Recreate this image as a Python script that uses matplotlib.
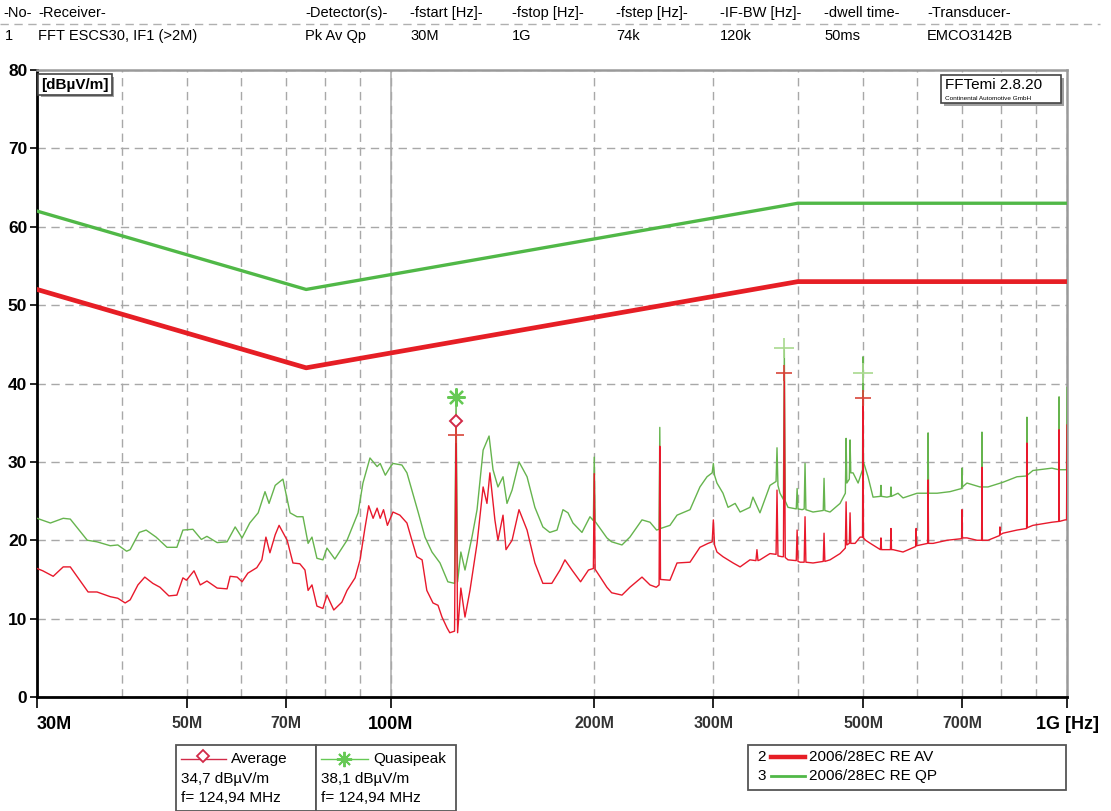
"""
Radiated emission scan 30 MHz - 1 GHz (FFTemi style chart)
"""

import matplotlib
matplotlib.use('Agg')
import matplotlib.pyplot as plt
from matplotlib.lines import Line2D
from matplotlib.patches import Rectangle
from matplotlib.ticker import FixedLocator, NullFormatter
import matplotlib.patheffects as pe

plt.rcParams['font.family'] = ['Liberation Sans', 'DejaVu Sans']

# ---- header table ----
header_cols = ['-No-', '-Receiver-', '-Detector(s)-', '-fstart [Hz]-', '-fstop [Hz]-',
               '-fstep [Hz]-', '-IF-BW [Hz]-', '-dwell time-', '-Transducer-']
header_vals = ['1', 'FFT ESCS30, IF1 (>2M)', 'Pk Av Qp', '30M', '1G',
               '74k', '120k', '50ms', 'EMCO3142B']

# ---- limit lines (2006/28EC) ----
limit_freq = [30, 75, 400, 1000]
limit_av = [52, 42, 53, 53]
limit_qp = [62, 52, 63, 63]

# ---- average trace (MHz, dBuV/m) ----
av_freq = [30.0, 30.6, 31.7, 32.8, 33.6, 35.7, 36.8, 38.5, 39.5, 40.5, 41.2, 42.3, 43.3, 44.5,
           45.6, 47.0, 48.3, 49.3, 49.9, 51.2, 52.3, 53.5, 55.4, 57.3, 57.9, 59.3, 60.3, 61.5,
           63.4, 64.5, 65.4, 66.3, 67.5, 68.4, 70.3, 71.7, 73.4, 74.7, 75.5, 76.5, 77.8, 79.4,
           80.5, 82.4, 84.7, 86.2, 88.6, 90.1, 91.6, 92.8, 94.2, 95.5, 96.5, 97.6, 98.9, 100.8,
           103.2, 105.7, 107.5, 109.3, 111.3, 113.1, 115.5, 117.5, 119.1, 121.2, 122.3, 124.3,
           124.94, 125.6, 127.0, 128.8, 131.0, 134.2, 137.0, 138.8, 140.2, 142.6, 144.1, 146.6,
           148.1, 151.2, 154.8, 159.1, 163.4, 167.9, 173.1, 178.0, 181.0, 185.4, 190.9, 196.1,
           199.4, 200.0, 200.6, 208.8, 212.2, 219.8, 225.8, 235.3, 241.8, 247.0, 249.4, 250.0,
           250.6, 258.8, 265.1, 277.1, 286.6, 294.6, 298.8, 300.0, 301.2, 303.7, 310.0, 320.9,
           328.6, 339.8, 346.8, 348.0, 349.2, 351.6, 363.8, 371.4, 372.6, 373.8, 379.0, 380.8,
           382.0, 383.2, 386.8, 397.8, 399.0, 400.2, 403.1, 408.7, 409.9, 411.1, 421.2, 436.1,
           437.3, 438.5, 446.3, 461.8, 470.2, 471.4, 472.6, 476.6, 477.8, 479.0, 486.0, 494.4,
           498.5, 499.3, 500.1, 503.8, 512.0, 529.8, 530.8, 531.8, 548.2, 549.2, 550.2, 553.0,
           572.2, 597.3, 598.3, 599.3, 606.6, 622.2, 623.2, 624.2, 633.9, 664.9, 698.4, 699.4,
           700.4, 711.4, 736.0, 747.7, 748.7, 749.7, 764.2, 794.9, 795.9, 796.9, 804.1, 843.4,
           871.5, 872.5, 873.5, 890.4, 950.1, 972.3, 973.3, 974.3, 993.6, 998.5, 1000.0]
av_level = [16.4, 16.1, 15.4, 16.6, 16.6, 13.4, 13.4, 12.8, 12.6, 12.0, 12.4, 14.3, 15.3, 14.5,
            14.0, 12.9, 13.0, 15.2, 14.9, 16.1, 14.3, 14.8, 13.9, 13.8, 15.4, 15.3, 14.7, 15.8,
            16.5, 17.5, 20.4, 18.4, 20.7, 21.9, 20.0, 17.1, 17.0, 16.2, 13.6, 14.3, 11.6, 11.3,
            13.0, 11.1, 12.1, 13.6, 15.2, 17.5, 21.5, 24.4, 22.8, 24.1, 22.8, 23.9, 21.9, 23.6,
            23.2, 22.2, 20.0, 17.9, 17.5, 13.6, 12.0, 11.7, 10.2, 8.8, 8.2, 8.4,
            35.2, 8.2, 13.9, 10.2, 13.6, 19.6, 26.8, 24.7, 28.6, 22.6, 20.0, 23.2,
            18.8, 20.0, 23.9, 21.3, 17.1, 14.5, 14.5, 16.2, 17.5, 16.2, 14.7, 16.2,
            16.4, 28.5, 16.3, 14.0, 13.3, 13.0, 14.0, 15.3, 14.3, 14.0, 14.3, 32.0,
            15.0, 14.9, 17.1, 17.2, 19.1, 19.6, 19.8, 22.6, 19.4, 18.5, 17.9, 17.1,
            16.6, 17.5, 17.4, 18.8, 17.4, 17.5, 18.3, 18.2, 26.4, 18.0, 17.9, 17.9,
            41.3, 17.8, 17.5, 17.4, 21.3, 17.3, 17.2, 17.2, 23.0, 17.2, 17.1, 17.3,
            20.9, 17.3, 17.5, 18.3, 19.0, 24.9, 19.4, 19.6, 23.5, 19.6, 19.6, 20.4,
            20.4, 38.3, 20.3, 20.0, 19.6, 18.8, 20.3, 18.8, 18.8, 21.5, 18.8, 18.8,
            18.5, 19.2, 21.5, 19.3, 19.4, 19.6, 27.7, 19.6, 19.6, 20.0, 20.2, 23.9,
            20.3, 20.3, 20.0, 20.0, 29.3, 20.0, 20.0, 20.6, 21.7, 20.7, 20.9, 21.3,
            21.5, 32.4, 21.6, 21.9, 22.3, 22.4, 34.1, 22.4, 22.6, 22.6, 34.7]

# ---- quasipeak trace (MHz, dBuV/m) ----
qp_freq = [30.0, 31.4, 32.8, 33.6, 35.6, 36.8, 38.5, 39.5, 40.7, 41.2, 42.5, 43.5, 45.0, 46.7,
           48.3, 49.3, 51.0, 52.5, 53.5, 55.4, 57.3, 58.9, 60.3, 61.9, 63.7, 65.2, 66.1, 67.5,
           69.3, 71.0, 72.7, 74.2, 75.5, 76.5, 77.8, 79.4, 80.5, 82.7, 86.2, 89.5, 91.0, 93.2,
           95.5, 96.5, 98.2, 99.8, 100.8, 103.9, 105.7, 107.5, 109.8, 112.4, 115.1, 118.3,
           121.5, 124.3, 124.94, 125.6, 127.0, 128.8, 131.9, 134.2, 137.0, 139.8, 141.7, 144.1,
           146.6, 148.6, 151.2, 154.8, 159.1, 163.4, 167.9, 171.9, 176.2, 179.8, 182.9, 186.0,
           191.8, 197.1, 199.4, 200.0, 200.6, 208.8, 212.2, 219.8, 225.8, 235.3, 241.8, 247.3,
           249.4, 250.0, 250.6, 258.8, 265.1, 277.1, 286.6, 293.6, 298.8, 300.0, 301.2, 303.7,
           310.0, 315.4, 323.1, 328.6, 339.8, 343.3, 351.6, 363.8, 371.4, 372.6, 373.8, 376.4,
           380.8, 382.0, 383.2, 386.8, 397.8, 399.0, 400.2, 405.9, 408.7, 409.9, 411.1, 421.2,
           436.1, 437.3, 438.5, 446.3, 461.8, 470.2, 471.4, 472.6, 476.6, 477.8, 479.0, 482.7,
           491.1, 498.5, 499.3, 500.1, 507.9, 516.7, 529.8, 530.8, 531.8, 541.7, 548.2, 549.2,
           550.2, 562.5, 572.2, 600.4, 622.2, 623.2, 624.2, 642.6, 671.4, 698.4, 699.4, 700.4,
           711.4, 743.6, 747.7, 748.7, 749.7, 764.2, 804.1, 843.4, 871.5, 872.5, 873.5, 890.4,
           950.1, 972.3, 973.3, 974.3, 993.6, 998.5, 1000.0]
qp_level = [22.8, 22.2, 22.8, 22.7, 20.0, 19.8, 19.3, 19.4, 18.6, 18.8, 21.0, 21.3, 20.4, 19.1,
            19.1, 21.3, 21.4, 20.1, 20.5, 19.7, 19.8, 21.7, 20.3, 22.2, 23.5, 26.2, 24.7, 27.0,
            27.8, 23.5, 23.0, 23.0, 19.6, 20.4, 17.7, 17.5, 19.0, 17.6, 20.0, 23.5, 27.3, 30.5,
            29.4, 29.8, 28.3, 29.3, 29.8, 29.6, 28.6, 26.4, 23.6, 20.4, 18.5, 17.1,
            14.7, 14.5, 38.1, 14.7, 18.5, 16.2, 20.4, 23.9, 31.5, 33.3, 29.0, 26.8,
            28.1, 24.7, 26.4, 30.0, 28.1, 24.2, 21.7, 21.0, 21.3, 23.9, 23.5, 22.2,
            21.0, 23.0, 22.5, 30.6, 22.4, 20.3, 19.8, 19.4, 20.4, 22.6, 22.3, 21.3,
            21.4, 34.4, 21.5, 21.9, 23.2, 23.9, 26.8, 28.1, 28.6, 29.8, 28.3, 27.3,
            26.0, 24.2, 24.7, 23.6, 24.2, 25.5, 23.5, 27.0, 27.5, 31.8, 27.0, 26.0,
            25.2, 44.3, 25.0, 24.2, 24.0, 26.6, 24.0, 23.9, 24.0, 29.8, 23.9, 23.6,
            23.8, 27.9, 23.8, 23.6, 24.7, 26.0, 33.0, 27.3, 27.8, 32.8, 28.6, 28.6,
            27.3, 29.0, 43.4, 30.0, 28.1, 25.5, 25.6, 27.0, 25.6, 25.5, 25.6, 26.8,
            25.6, 26.0, 25.4, 26.0, 26.0, 33.7, 26.0, 26.0, 26.2, 26.6, 29.2, 26.8,
            27.3, 26.8, 26.8, 33.8, 26.8, 26.8, 27.4, 28.1, 28.2, 35.7, 28.3, 28.9,
            29.2, 29.0, 38.3, 29.0, 29.0, 29.0, 39.5]

# ---- markers ----
mark_freq = 124.94
mark_av = 35.2
mark_qp = 38.3
av_peak_freq = [124.94, 382.0, 499.3]
av_peak_level = [33.4, 41.3, 38.1]
qp_peak_freq = [382.0, 499.3]
qp_peak_level = [44.5, 41.3]

x_major = [30, 50, 70, 100, 200, 300, 500, 700, 1000]
x_labels = ['30M', '50M', '70M', '100M', '200M', '300M', '500M', '700M', '1G [Hz]']
x_minor = [40, 60, 80, 90, 400, 600, 800, 900]

W, H = 1111, 811
RED_LIM = '#e61e25'
GREEN_LIM = '#50b847'
RED_TR = '#e8192c'
GREEN_TR = '#66b44e'
GRID = '#a8a8a8'


def fx(x):
    return x / W


def fy(y):
    return 1 - y / H


fig = plt.figure(figsize=(W / 100, H / 100), dpi=100)
ax = fig.add_axes([fx(37), fy(697), 1030 / W, 627 / H])

# traces
ax.plot(qp_freq, qp_level, color=GREEN_TR, lw=1.0, zorder=3)
ax.plot(av_freq, av_level, color=RED_TR, lw=1.0, zorder=4)

# limits
ax.plot(limit_freq, limit_qp, color=GREEN_LIM, lw=2.4, zorder=5)
ax.plot(limit_freq, limit_av, color=RED_LIM, lw=3.4, zorder=5)

# peak markers
ax.plot(qp_peak_freq, qp_peak_level, ls='none', marker='+', ms=14, mew=1.2,
        color='#a9d98f', zorder=6)
ax.plot(av_peak_freq, av_peak_level, ls='none', marker='+', ms=12, mew=1.2,
        color='#d8453a', zorder=6)
ax.plot([mark_freq], [mark_av], ls='none', marker='D', ms=6.5, mfc='white', mew=1.4,
        color='#d22a48', zorder=7)
ax.plot([mark_freq], [mark_qp], ls='none', marker=(8, 2, 0), ms=13, mew=1.6,
        color='#66c955', zorder=7)

ax.set_xscale('log')
ax.set_xlim(30, 1000)
ax.set_ylim(0, 80)

ax.xaxis.set_major_locator(FixedLocator(x_major))
ax.xaxis.set_minor_locator(FixedLocator(x_minor))
ax.xaxis.set_minor_formatter(NullFormatter())
ax.set_xticklabels(x_labels)
ax.set_yticks(range(0, 81, 10))

ax.tick_params(axis='x', which='major', length=8, width=1.2, pad=6, direction='out',
               labelsize=11.5)
ax.tick_params(axis='x', which='minor', length=0)
ax.tick_params(axis='y', length=5, width=1.2, pad=2, labelsize=12.5)
for lab in ax.get_yticklabels():
    lab.set_fontweight('bold')
for i, lab in enumerate(ax.get_xticklabels()):
    lab.set_fontweight('bold')
    if x_labels[i] in ('30M', '100M', '1G [Hz]'):
        lab.set_fontsize(13)
    else:
        lab.set_color('#333333')
ax.get_xticklabels()[0].set_ha('left')

ax.grid(True, which='both', axis='x', color=GRID, ls=(0, (6, 4)), lw=1.0)
ax.grid(True, which='major', axis='y', color=GRID, ls=(0, (6, 4)), lw=1.0)
ax.axvline(100, color='#b0b0b0', lw=1.2, zorder=1)

for side in ('left', 'bottom'):
    ax.spines[side].set_color('black')
    ax.spines[side].set_linewidth(2.0)
for side in ('top', 'right'):
    ax.spines[side].set_color('#9a9a9a')
    ax.spines[side].set_linewidth(1.8)

# unit box
t = ax.text(0.004, 0.988, '[dBµV/m]', transform=ax.transAxes,
            fontsize=11, fontweight='bold', va='top', ha='left',
            bbox=dict(boxstyle='square,pad=0.2', fc='white', ec='#444444', lw=1.2))
t.get_bbox_patch().set_path_effects([pe.withSimplePatchShadow(offset=(2, -2),
                                                              shadow_rgbFace='#888888',
                                                              alpha=0.8)])

# FFTemi box
box = Rectangle((fx(941), fy(103)), 120 / W, 28 / H, transform=fig.transFigure,
                fc='white', ec='#444444', lw=1.2, zorder=10)
box.set_path_effects([pe.withSimplePatchShadow(offset=(2, -2), shadow_rgbFace='#888888',
                                               alpha=0.8)])
fig.add_artist(box)
fig.text(fx(945), fy(85), 'FFTemi 2.8.20', fontsize=11, va='center', ha='left', zorder=11)
fig.text(fx(945), fy(98), 'Continental Automotive GmbH', fontsize=4.6, va='center',
         ha='left', zorder=11)

# header
col_x = [3, 38, 305, 410, 512, 616, 720, 824, 927]
for cx, name, val in zip(col_x, header_cols, header_vals):
    fig.text(fx(cx), fy(13), name, fontsize=10.5, va='center', ha='left')
    fig.text(fx(cx + (2 if val == '1' else 0)), fy(36), val, fontsize=10.5, va='center',
             ha='left')
fig.add_artist(Line2D([fx(0), fx(1100)], [fy(24), fy(24)], transform=fig.transFigure,
                      color='#b0b0b0', lw=1.0, ls=(0, (6, 4))))

# marker legend boxes
for x0 in (176, 316):
    fig.add_artist(Rectangle((fx(x0), fy(811)), 140 / W, 66 / H, transform=fig.transFigure,
                             fc='white', ec='#555555', lw=1.3))
fig.add_artist(Line2D([fx(181), fx(226)], [fy(759), fy(759)], transform=fig.transFigure,
                      color='#d22a48', lw=1.0))
fig.add_artist(Line2D([fx(203)], [fy(756)], transform=fig.transFigure, ls='none',
                      marker='D', ms=6, mfc='white', mew=1.3, color='#d22a48'))
fig.text(fx(231), fy(759), 'Average', fontsize=11, va='center')
fig.text(fx(181), fy(779), '34,7 dBµV/m', fontsize=11, va='center')
fig.text(fx(181), fy(798), 'f= 124,94 MHz', fontsize=11, va='center')

fig.add_artist(Line2D([fx(321), fx(368)], [fy(759), fy(759)], transform=fig.transFigure,
                      color='#66c955', lw=1.0))
fig.add_artist(Line2D([fx(344)], [fy(759)], transform=fig.transFigure, ls='none',
                      marker=(8, 2, 0), ms=11, mew=1.4, color='#66c955'))
fig.text(fx(373), fy(759), 'Quasipeak', fontsize=11, va='center')
fig.text(fx(321), fy(779), '38,1 dBµV/m', fontsize=11, va='center')
fig.text(fx(321), fy(798), 'f= 124,94 MHz', fontsize=11, va='center')

# limit legend box
fig.add_artist(Rectangle((fx(748), fy(790)), 318 / W, 45 / H, transform=fig.transFigure,
                         fc='white', ec='#555555', lw=1.3))
fig.text(fx(757), fy(757), '2', fontsize=11, va='center')
fig.add_artist(Line2D([fx(771), fx(805)], [fy(757), fy(757)], transform=fig.transFigure,
                      color=RED_LIM, lw=3.2))
fig.text(fx(809), fy(757), '2006/28EC RE AV', fontsize=11, va='center')
fig.text(fx(757), fy(776), '3', fontsize=11, va='center')
fig.add_artist(Line2D([fx(771), fx(805)], [fy(776), fy(776)], transform=fig.transFigure,
                      color=GREEN_LIM, lw=2.0))
fig.text(fx(809), fy(776), '2006/28EC RE QP', fontsize=11, va='center')

fig.savefig('out.png', dpi=100)
